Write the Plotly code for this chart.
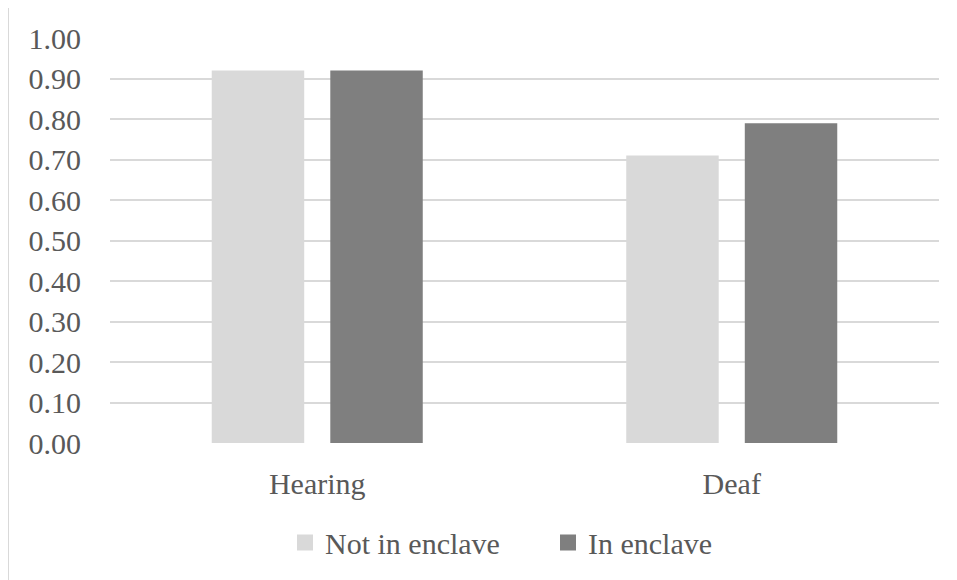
import plotly.graph_objects as go

categories = ["Hearing", "Deaf"]
not_in_enclave = [0.92, 0.71]
in_enclave = [0.92, 0.79]
series_names = ["Not in enclave", "In enclave"]
y_ticks = [0.0, 0.1, 0.2, 0.3, 0.4, 0.5, 0.6, 0.7, 0.8, 0.9, 1.0]
y_tick_labels = ["0.00", "0.10", "0.20", "0.30", "0.40", "0.50", "0.60", "0.70", "0.80", "0.90", "1.00"]

LIGHT = "#d9d9d9"
DARK = "#7f7f7f"
TEXT = "#595959"
FONT = "Liberation Serif"

# page has an 8px body margin; figure coordinates are screen minus 8
OFF = 8
W, H = 957 - OFF, 580 - OFF
ML, MR, MT, MB = 110 - OFF, 18, 38 - OFF, 136.5
PW = W - ML - MR
PH = H - MT - MB

fig = go.Figure()
fig.add_trace(go.Bar(x=categories, y=not_in_enclave, name=series_names[0],
                     marker=dict(color=LIGHT, line=dict(width=0)), showlegend=False))
fig.add_trace(go.Bar(x=categories, y=in_enclave, name=series_names[1],
                     marker=dict(color=DARK, line=dict(width=0)), showlegend=False))
# legend entries
fig.add_trace(go.Scatter(x=[None], y=[None], mode="markers", name=series_names[0],
                         marker=dict(symbol="square", size=16, color=LIGHT)))
fig.add_trace(go.Scatter(x=[None], y=[None], mode="markers", name=series_names[1],
                         marker=dict(symbol="square", size=16, color=DARK)))

def px_x(p):
    return (p - OFF - ML) / PW

def px_y(p):
    return (H - MB - (p - OFF)) / PH

shapes = [
    dict(type="line", xref="paper", yref="paper", x0=px_x(8), x1=px_x(970), y0=px_y(6), y1=px_y(6),
         line=dict(color=LIGHT, width=2)),
    dict(type="line", xref="paper", yref="paper", x0=px_x(8), x1=px_x(8), y0=px_y(6), y1=px_y(600),
         line=dict(color=LIGHT, width=2)),
]

fig.update_layout(
    width=W, height=H,
    margin=dict(l=ML, r=MR, t=MT, b=MB, pad=0),
    paper_bgcolor="white", plot_bgcolor="white",
    font=dict(family=FONT, size=30, color=TEXT),
    barmode="group", bargap=0.428, bargroupgap=0.22,
    showlegend=True,
    legend=dict(orientation="h", x=px_x(285), xanchor="left", y=px_y(543), yanchor="middle",
                font=dict(family=FONT, size=30, color=TEXT), entrywidth=218, entrywidthmode="pixels",
                itemclick=False, bgcolor="rgba(0,0,0,0)"),
    shapes=shapes,
    xaxis=dict(showgrid=False, showline=False, ticks="", tickfont=dict(family=FONT, size=30, color=TEXT),
               ticklabelstandoff=20),
    yaxis=dict(range=[0, 1.0005], tickvals=y_ticks, ticktext=y_tick_labels, showgrid=True,
               gridcolor=LIGHT, gridwidth=2, zeroline=False, showline=False, ticks="",
               tickfont=dict(family=FONT, size=30, color=TEXT), ticklabelstandoff=28),
)

fig.write_html("out.html")
